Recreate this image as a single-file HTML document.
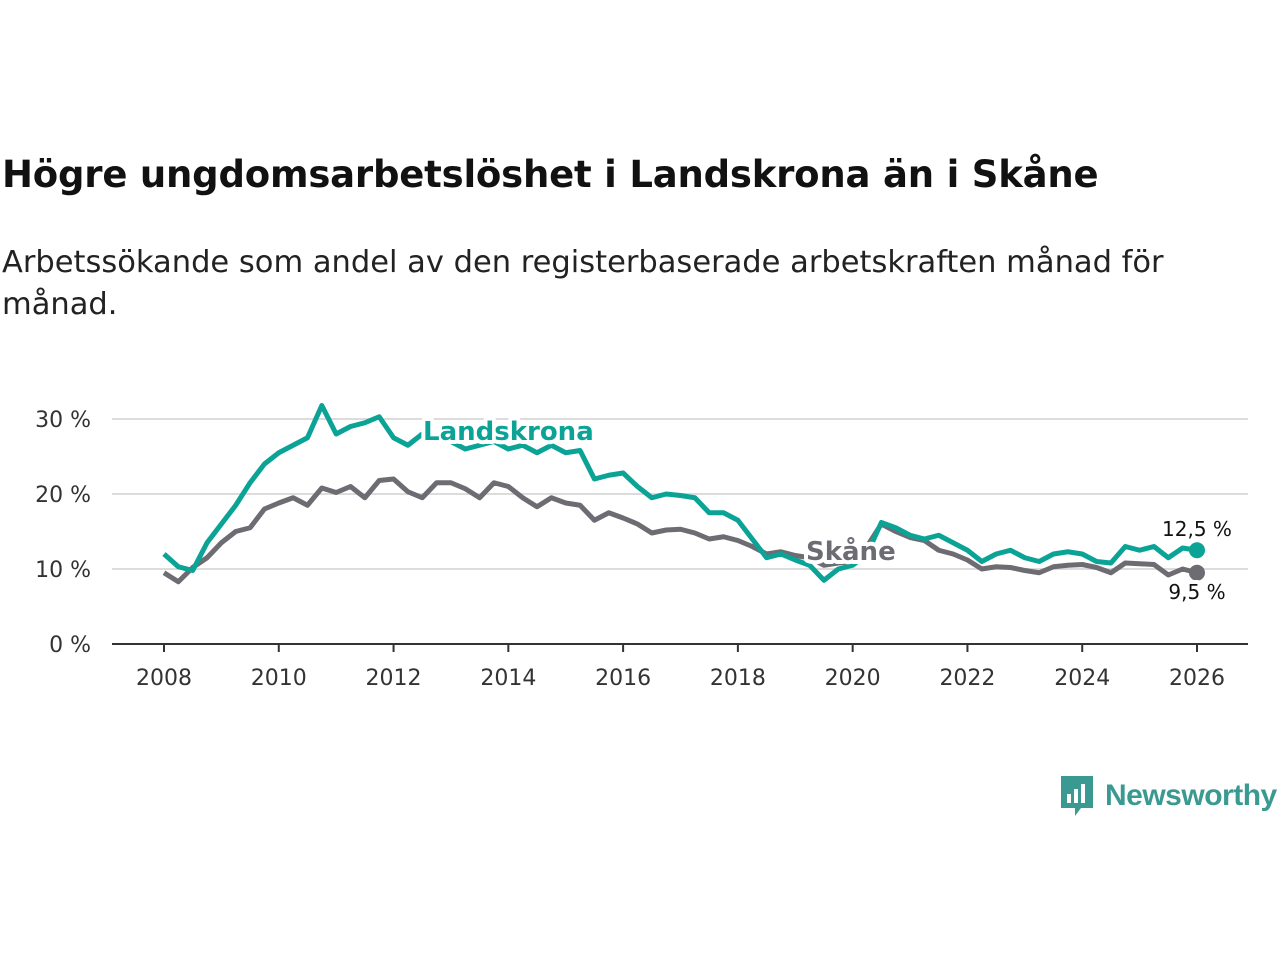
<!DOCTYPE html>
<html><head><meta charset="utf-8"><style>
body{margin:0;background:#fff;width:1280px;height:960px;overflow:hidden;font-family:"DejaVu Sans","Liberation Sans",sans-serif;}
h1{position:absolute;left:2px;top:153px;margin:0;font-size:37px;font-weight:bold;color:#111;letter-spacing:-0.2px;white-space:nowrap}
p{position:absolute;left:2px;top:242px;margin:0;font-size:30.5px;line-height:42px;color:#222;width:1220px}
svg{position:absolute;left:0;top:0}
</style></head><body>
<h1>Högre ungdomsarbetslöshet i Landskrona än i Skåne</h1>
<p>Arbetssökande som andel av den registerbaserade arbetskraften månad för månad.</p>
<svg width="1280" height="960" id="chart"></svg>
<script>
const yTicks=[0,10,20,30];
const xTicks=[2008,2010,2012,2014,2016,2018,2020,2022,2024,2026];
const landskrona=[12.0,10.3,9.8,13.5,16.0,18.5,21.5,24.0,25.5,26.5,27.5,31.8,28.0,29.0,29.5,30.3,27.5,26.5,28.0,27.5,27.0,26.0,26.5,27.0,26.0,26.5,25.5,26.5,25.5,25.8,22.0,22.5,22.8,21.0,19.5,20.0,19.8,19.5,17.5,17.5,16.5,14.0,11.5,12.0,11.2,10.5,8.5,10.0,10.5,12.0,16.2,15.5,14.5,14.0,14.5,13.5,12.5,11.0,12.0,12.5,11.5,11.0,12.0,12.3,12.0,11.0,10.8,13.0,12.5,13.0,11.5,12.8,12.5];
const skane=[9.5,8.3,10.2,11.5,13.5,15.0,15.5,18.0,18.8,19.5,18.5,20.8,20.2,21.0,19.5,21.8,22.0,20.3,19.5,21.5,21.5,20.7,19.5,21.5,21.0,19.5,18.3,19.5,18.8,18.5,16.5,17.5,16.8,16.0,14.8,15.2,15.3,14.8,14.0,14.3,13.8,13.0,12.0,12.3,11.8,11.5,10.5,10.8,11.0,13.0,16.0,15.0,14.2,13.8,12.5,12.0,11.2,10.0,10.3,10.2,9.8,9.5,10.3,10.5,10.6,10.2,9.5,10.8,10.7,10.6,9.2,10.0,9.5];
const startYear=2008, step=0.25;
const X=y=>164+(y-2008)*(1197-164)/18;
const Y=v=>644-v*7.5;
const svg=document.getElementById('chart');
const NS='http://www.w3.org/2000/svg';
function mk(t,a){const e=document.createElementNS(NS,t);for(const k in a)e.setAttribute(k,a[k]);svg.appendChild(e);return e;}
yTicks.forEach(v=>{
 if(v>0){const g=mk('line',{x1:112,x2:1248,y1:Y(v),y2:Y(v),stroke:'#dcdcdc','stroke-width':2});
 
 }
 const t=mk('text',{x:91,y:Y(v)+8,'text-anchor':'end','font-size':22,fill:'#333'});t.textContent=v+' %';
 
 
});
const ax=mk('line',{x1:112,x2:1248,y1:644,y2:644,stroke:'#333','stroke-width':2});


xTicks.forEach(v=>{
 const l=mk('line',{x1:X(v),x2:X(v),y1:644,y2:652,stroke:'#333','stroke-width':2});
 
 
 const t=mk('text',{x:X(v),y:685,'text-anchor':'middle','font-size':22,fill:'#333'});t.textContent=v;
 
 
});
function line(d,c,n){
 const p=mk('polyline',{points:d.map((v,i)=>X(startYear+i*step)+','+Y(v)).join(' '),fill:'none',stroke:c,'stroke-width':5,'stroke-linejoin':'round'});
 
 
 const dot=mk('circle',{cx:X(startYear+(d.length-1)*step),cy:Y(d[d.length-1]),r:8,fill:c});
 
 
}
line(skane,'#6e6c73','skane-line');
line(landskrona,'#0aa396','landskrona-line');
function lab(x,y,s,c,sz,w,n,a){
 const t=mk('text',{x:x,y:y,fill:c,'font-size':sz,'font-weight':w,'text-anchor':a||'start',stroke:'#fff','stroke-width':8,'paint-order':'stroke','stroke-linejoin':'round'});t.textContent=s;
 
 
}
lab(423,440,'Landskrona','#0aa396',26,'bold','landskrona-label');
lab(806,560,'Skåne','#6e6c73',26,'bold','skane-label');
lab(1197,536,'12,5 %','#111',20,'normal','landskrona-end-value','middle');
lab(1197,599,'9,5 %','#111',20,'normal','skane-end-value','middle');
</script>
<div style="position:absolute;left:1059px;top:774px;display:flex;align-items:center">
 <svg width="36" height="44" style="position:static" viewBox="0 0 36 44"><path d="M2 2h32v32H22l-6 8v-8H2z" fill="#3a9a92"/><rect x="8" y="20" width="4" height="9" fill="#fff"/><rect x="15" y="15" width="4" height="14" fill="#fff"/><rect x="22" y="10" width="4" height="19" fill="#fff"/></svg>
 <span style="font-family:'Liberation Sans',sans-serif;font-size:30px;color:#3a9a92;margin-left:10px;font-weight:bold;letter-spacing:-0.5px">Newsworthy</span>
</div>
</body></html>
